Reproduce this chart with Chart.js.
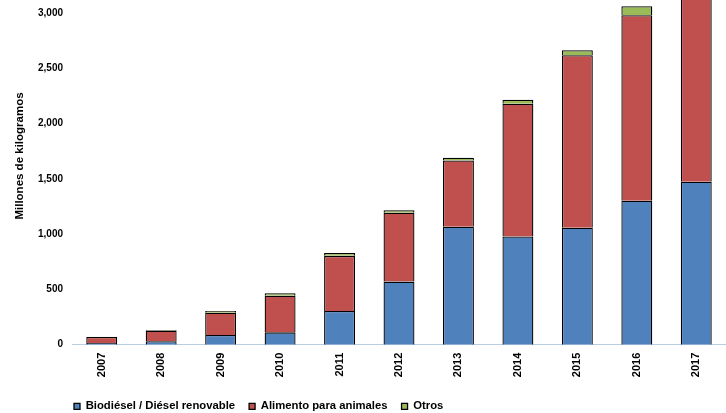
<!DOCTYPE html>
<html lang="es">
<head>
    <meta charset="UTF-8">
    <title>Millones de kilogramos</title>
    <script src="https://cdn.jsdelivr.net/npm/chart.js"></script>
    <style>
        body {
            margin: 0;
            background-color: #fff;
        }
        #wrap {
            width: 726px;
            height: 413px;
        }
    </style>
</head>
<body>
    <div id="wrap">
        <canvas id="chart" width="726" height="413"></canvas>
    </div>
    <script>
        const years = ['2007', '2008', '2009', '2010', '2011', '2012', '2013', '2014', '2015', '2016', '2017'];
        const biodiesel = [15, 32, 88, 112, 305, 571, 1067, 979, 1058, 1303, 1475];
        const alimento = [55, 95, 202, 332, 499, 623, 601, 1203, 1562, 1680, 1800];
        const otros = [2, 5, 15, 21, 27, 24, 24, 36, 45, 81, 70];
        const yTicks = [0, 500, 1000, 1500, 2000, 2500, 3000];
        const yTitle = 'Millones de kilogramos';

        const FONT = "'Liberation Sans', Arial, Helvetica, sans-serif";

        // y axis title, drawn a bit above the middle like the original
        const yTitlePlugin = {
            id: 'yTitle',
            afterDraw(chart) {
                const ctx = chart.ctx;
                ctx.save();
                ctx.translate(20, 156);
                ctx.rotate(-Math.PI / 2);
                ctx.font = 'bold 11.5px ' + FONT;
                ctx.fillStyle = '#000';
                ctx.textAlign = 'center';
                ctx.textBaseline = 'middle';
                ctx.fillText(yTitle, 0, 0);
                ctx.restore();
            }
        };

        // move the legend to where it sits in the original
        const legendShift = {
            id: 'legendShift',
            afterLayout(chart) {
                const lg = chart.legend;
                const w = lg.right - lg.left;
                lg.left = 60;
                lg.right = 60 + w;
                lg.top += 9;
                lg.bottom += 9;
            }
        };

        const ctx = document.getElementById('chart').getContext('2d');
        new Chart(ctx, {
            type: 'bar',
            data: {
                labels: years,
                datasets: [{
                    label: 'Biodiésel / Diésel renovable',
                    data: biodiesel,
                    backgroundColor: '#4F81BD'
                }, {
                    label: 'Alimento para animales',
                    data: alimento,
                    backgroundColor: '#C0504D'
                }, {
                    label: 'Otros',
                    data: otros,
                    backgroundColor: '#9BBB59'
                }]
            },
            options: {
                responsive: false,
                animation: false,
                devicePixelRatio: 1,
                layout: { padding: 0 },
                datasets: {
                    bar: {
                        categoryPercentage: 1,
                        barPercentage: 0.52,
                        borderColor: '#000',
                        borderWidth: 1.3,
                        borderSkipped: 'start'
                    }
                },
                plugins: {
                    legend: {
                        position: 'bottom',
                        align: 'start',
                        labels: {
                            boxWidth: 6,
                            boxHeight: 6,
                            padding: 14,
                            color: '#000',
                            font: { family: FONT, size: 11.3, weight: 'bold' }
                        }
                    },
                    tooltip: { enabled: false }
                },
                scales: {
                    x: {
                        stacked: true,
                        grid: { display: false, drawTicks: false },
                        border: { display: true, color: '#B9CDE5', width: 1 },
                        ticks: {
                            minRotation: 90,
                            maxRotation: 90,
                            padding: 8,
                            color: '#000',
                            font: { family: FONT, size: 11, weight: 'bold' }
                        },
                        afterFit(scale) {
                            scale.height = 33;
                            scale.paddingLeft = 0;
                            scale.paddingRight = 0;
                        }
                    },
                    y: {
                        stacked: true,
                        min: 0,
                        max: 3120,
                        grid: { display: false, drawTicks: false },
                        border: { display: false },
                        ticks: {
                            padding: 9,
                            color: '#000',
                            font: { family: FONT, size: 10, weight: 'bold' },
                            callback: v => v.toLocaleString('en-US')
                        },
                        afterBuildTicks(scale) {
                            scale.ticks = yTicks.map(v => ({ value: v }));
                        },
                        afterFit(scale) {
                            scale.width = 72;
                            scale.paddingTop = 0;
                            scale.paddingBottom = 0;
                        }
                    }
                }
            },
            plugins: [yTitlePlugin, legendShift]
        });
    </script>
</body>
</html>
